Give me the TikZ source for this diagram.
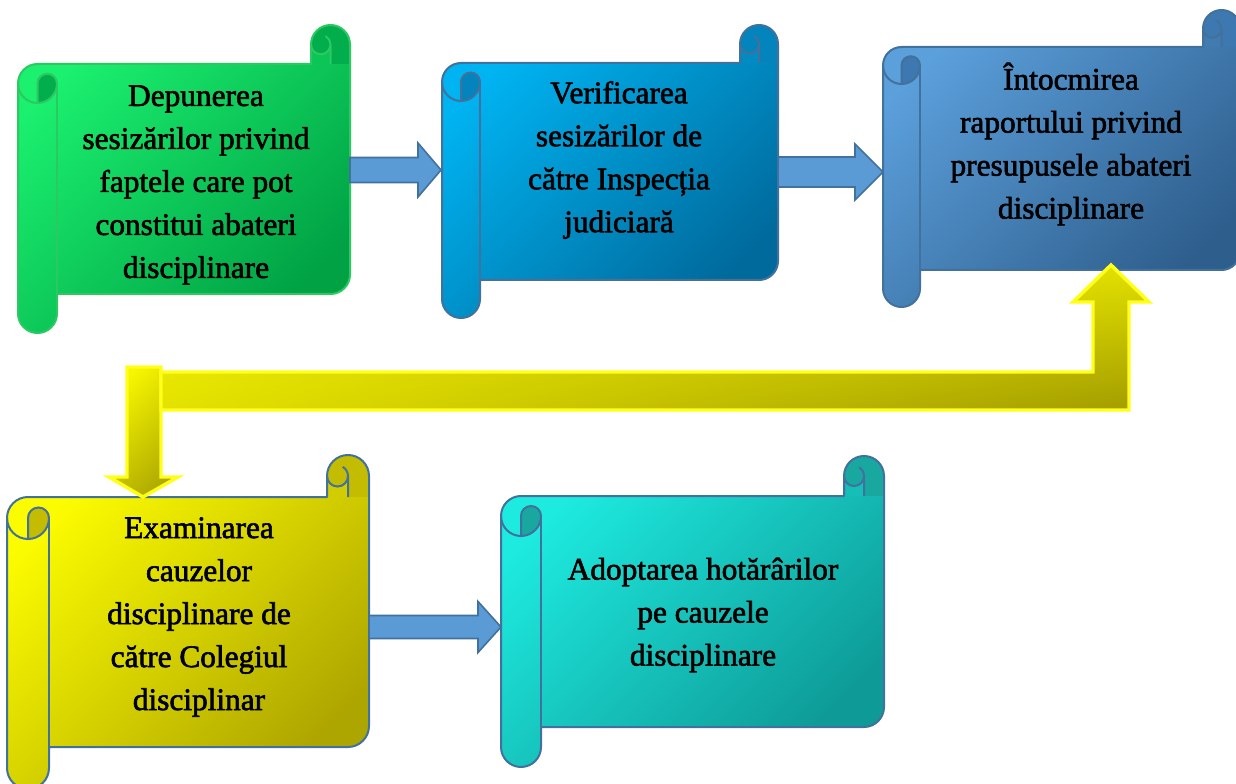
\documentclass[tikz,border=0pt]{standalone}
\usepackage{fontspec}
\setmainfont{Liberation Serif}
\newfontfamily\scrollfont[FakeBold=2]{Liberation Serif}
\usetikzlibrary{calc,shadings}

\definecolor{greenlight}{HTML}{1BF06F}
\definecolor{greendark}{HTML}{00A244}
\definecolor{greencurl}{HTML}{02AE4C}
\definecolor{greenline}{HTML}{2CC862}
\definecolor{cyanblue}{HTML}{00B4F2}
\definecolor{cyanbluedark}{HTML}{006A9C}
\definecolor{cyanbluecurl}{HTML}{0484BC}
\definecolor{steel}{HTML}{5B9FDB}
\definecolor{steeldark}{HTML}{2E5E8C}
\definecolor{steelcurl}{HTML}{3E78B0}
\definecolor{lemon}{HTML}{FCFC00}
\definecolor{lemondark}{HTML}{AEA600}
\definecolor{lemoncurl}{HTML}{C4BC00}
\definecolor{aqua}{HTML}{1EEBE0}
\definecolor{aquadark}{HTML}{0E9A96}
\definecolor{aquacurl}{HTML}{18A8A0}
\definecolor{scrollline}{HTML}{41719C}
\definecolor{arrowblue}{HTML}{5B9BD5}
\definecolor{bentglow}{HTML}{FFFF1A}
\definecolor{bentul}{HTML}{F6F600}
\definecolor{bentur}{HTML}{E2E000}
\definecolor{bentll}{HTML}{E4E200}
\definecolor{bentlr}{HTML}{A29C00}

% vertical scroll: #1,#2 top left; #3,#4 bottom right; #5 roll; #6 light; #7 dark; #8 curl; #9 line
\newcommand{\scrollshape}[9]{%
  \pgfmathsetmacro{\rr}{#5/2}
  \pgfmathsetmacro{\qq}{#5/4}
  \pgfmathsetmacro{\xb}{#1+#5}
  \pgfmathsetmacro{\xm}{#1+#5/2}
  \pgfmathsetmacro{\xc}{#3-#5}
  \pgfmathsetmacro{\xn}{#3-#5/2}
  \pgfmathsetmacro{\yb}{#2+#5}
  \pgfmathsetmacro{\ym}{#2+#5/2}
  \pgfmathsetmacro{\yc}{#2+1.5*#5}
  \pgfmathsetmacro{\yd}{#4-#5}
  \pgfmathsetmacro{\ye}{#4-#5/2}
  \path[shade, top color=#6, bottom color=#7, shading angle=45] (#1,\yc) -- (#1,\ye) arc (180:0:\rr) -- (\xb,\yd) -- (\xn,\yd) arc (90:0:\rr) -- (#3,\ym) arc (0:-180:\rr) -- (\xc,\yb) -- (\xm,\yb) arc (-90:-180:\rr) -- cycle;
  \fill[#8] (\xn,\ym) circle [radius=\rr];
  \fill[#8] (\xc,\ym) rectangle (#3,\yb);
  \fill[#6!45!#7] (\xc,\ym) arc (180:0:\qq) -- (\xn,\yb) -- (\xc,\yb) -- cycle;
  \draw[draw=#9, line width=1.5, line join=round] (#1,\yc) -- (#1,\ye) arc (180:0:\rr) -- (\xb,\yd) -- (\xn,\yd) arc (90:0:\rr) -- (#3,\ym) arc (0:-180:\rr) -- (\xc,\yb) -- (\xm,\yb) arc (-90:-180:\rr) -- cycle;
  \draw[draw=#9, line width=1.5, fill=#8] (\xm,\yc) arc (180:360:\qq) arc (0:90:\rr) -- cycle;
  \draw[draw=#9, line width=1.5] (#1,\yc) arc (180:90:\rr);
  \draw[draw=#9, line width=1.5] (\xb,\yc) -- (\xb,\yd);
  \draw[draw=#9, line width=1.5] (\xc,\ym) arc (180:0:\qq) -- (\xn,\yb);
  \draw[draw=#9, line width=1.5] (\xn,\ym) arc (0:-60:\qq);
}

% block arrow: #1 tail, #2 tip, #3 shaft half, #4 head half, #5 head length
\newcommand{\blockarrow}[5]{%
  \draw[barrow] ($(#1)+(0,-#3)$) -- ($(#2)+(-#5,-#3)$) -- ($(#2)+(-#5,-#4)$) -- (#2) -- ($(#2)+(-#5,#4)$) -- ($(#2)+(-#5,#3)$) -- ($(#1)+(0,#3)$) -- cycle;
}

\tikzset{
  barrow/.style={fill=arrowblue, draw=scrollline, line width=1.2, line join=miter},
  bentarrow/.style={draw=bentglow, line width=2.6, line join=miter, shade, shading=bilinear interpolation, upper left=bentul, upper right=bentur, lower left=bentll, lower right=bentlr},
  downarrow/.style={draw=bentglow, line width=2.6, line join=miter, shade, top color=bentul, bottom color=bentlr!80!bentll, shading angle=45},
  scrolltext/.style={align=center, inner sep=0pt, text=black, font=\scrollfont\fontsize{23.5}{32.25}\selectfont}
}

\begin{document}
\begin{tikzpicture}[x=0.75pt,y=0.75pt,yscale=-1,xscale=1]
    \path[use as bounding box, fill=white] (0,0) rectangle (1236,784);

    %Shape: Vertical Scroll
    \scrollshape{18}{25}{350}{333}{39}{greenlight}{greendark}{greencurl}{greenline}
    %Shape: Vertical Scroll
    \scrollshape{442}{25}{778}{318}{38}{cyanblue}{cyanbluedark}{cyanbluecurl}{scrollline}
    %Shape: Vertical Scroll
    \scrollshape{883}{10}{1240}{307}{37}{steel}{steeldark}{steelcurl}{scrollline}
    %Shape: Vertical Scroll
    \scrollshape{7}{455}{369}{789}{42}{lemon}{lemondark}{lemoncurl}{scrollline}
    %Shape: Vertical Scroll
    \scrollshape{501}{456}{884}{767}{40}{aqua}{aquadark}{aquacurl}{scrollline}

    % Text Node
    \node[scrolltext] (depunere) at (196,185) {Depunerea\\sesizărilor privind\\faptele care pot\\constitui abateri\\disciplinare};
    % Text Node
    \node[scrolltext] (verificare) at (619,160) {Verificarea\\sesizărilor de\\către Inspecția\\judiciară};
    % Text Node
    \node[scrolltext] (intocmire) at (1071,144) {Întocmirea\\raportului privind\\presupusele abateri\\disciplinare};
    % Text Node
    \node[scrolltext] (examinare) at (199,617) {Examinarea\\cauzelor\\disciplinare de\\către Colegiul\\disciplinar};
    % Text Node
    \node[scrolltext] (adoptare) at (703,615) {Adoptarea hotărârilor\\pe cauzele\\disciplinare};

    \coordinate (depunere-e) at (350,170);
    \coordinate (verificare-w) at (441,170);
    \coordinate (verificare-e) at (778,172);
    \coordinate (intocmire-w) at (883,172);
    \coordinate (intocmire-s) at (1111,265);
    \coordinate (examinare-n) at (143,497);
    \coordinate (examinare-e) at (369,627);
    \coordinate (adoptare-w) at (501,627);
    \coordinate (bend-w) at (161,391);

    %Right Arrow
    \blockarrow{depunere-e}{verificare-w}{12.5}{27}{23}
    \blockarrow{verificare-e}{intocmire-w}{15}{28}{28}
    \blockarrow{examinare-e}{adoptare-w}{11.5}{25.5}{23}

    %Down Arrow
    \draw[downarrow] ($(examinare-n)+(-16,-130)$) -- ($(examinare-n)+(18,-130)$) -- ($(examinare-n)+(18,-20)$) -- ($(examinare-n)+(35,-20)$) -- (examinare-n) -- ($(examinare-n)+(-34,-20)$) -- ($(examinare-n)+(-16,-20)$) -- cycle;
    %Bent-Up Arrow
    \draw[bentarrow] (intocmire-s) -- ($(intocmire-s)+(38,37)$) -- ($(intocmire-s)+(18,37)$) -- ($(intocmire-s)+(18,145)$) -- ($(bend-w)+(0,19)$) -- ($(bend-w)+(0,-19)$) -- ($(intocmire-s)+(-18,107)$) -- ($(intocmire-s)+(-18,37)$) -- ($(intocmire-s)+(-38,37)$) -- cycle;

\end{tikzpicture}
\end{document}
